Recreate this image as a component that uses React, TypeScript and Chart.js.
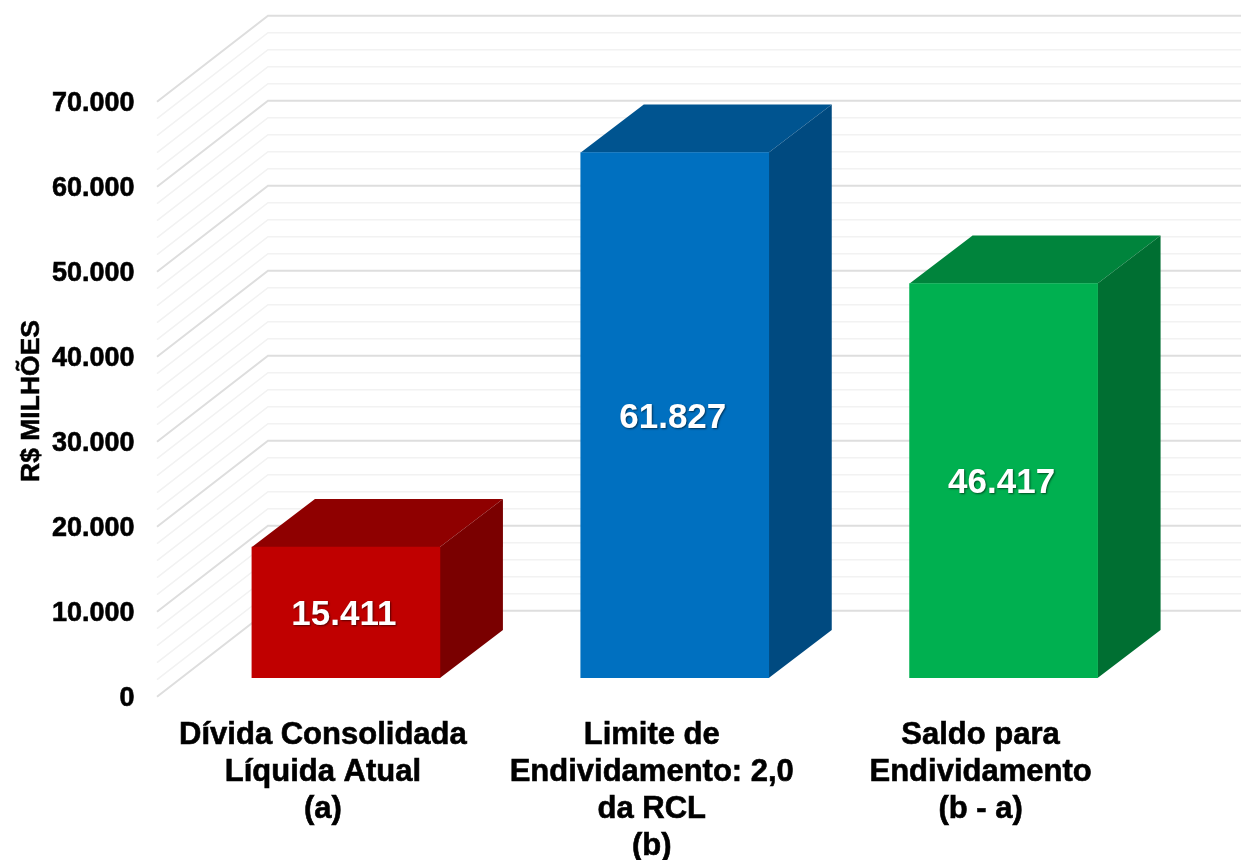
import React, { useEffect, useRef } from "react";
import { Chart, registerables } from "chart.js";

Chart.register(...registerables);

const categories = [
  ["Dívida Consolidada", "Líquida Atual", "(a)"],
  ["Limite de", "Endividamento: 2,0", "da RCL", "(b)"],
  ["Saldo para", "Endividamento", "(b - a)"],
];
const values = [15411, 61827, 46417];
const frontColors = ["#C00000", "#0070C0", "#00B050"];
const topColors = ["#8F0000", "#005490", "#00843C"];
const sideColors = ["#7A0000", "#004A80", "#006F32"];
const yAxisTitle = "R$ MILHÕES";
const FONT = '"Liberation Sans", Arial, sans-serif';

const fmt = (v: number) => new Intl.NumberFormat("de-DE").format(v);

const plugin3d = {
  id: "bars3d",
  beforeDatasetsDraw(chart: any) {
    const { ctx, scales } = chart;
    const y = scales.y;
    const W = chart.width;
    ctx.save();
    y.ticks.forEach((t: any) => {
      const major = t.value % 10000 === 0;
      const py = y.getPixelForValue(t.value) + 18.7;
      ctx.beginPath();
      ctx.moveTo(157, py);
      ctx.lineTo(268, py - 86);
      ctx.lineTo(W, py - 86);
      ctx.lineWidth = major ? 2 : 1.6;
      ctx.strokeStyle = major ? "#DEDEDE" : "#F2F2F2";
      ctx.stroke();
    });
    const meta = chart.getDatasetMeta(0);
    const dx = 63;
    const dy = -48;
    meta.data.forEach((bar: any, i: number) => {
      const half = bar.width / 2;
      const l = bar.x - half;
      const r = bar.x + half;
      const top = bar.y;
      const base = bar.base;
      ctx.fillStyle = topColors[i];
      ctx.beginPath();
      ctx.moveTo(l, top);
      ctx.lineTo(l + dx, top + dy);
      ctx.lineTo(r + dx, top + dy);
      ctx.lineTo(r, top);
      ctx.closePath();
      ctx.fill();
      ctx.fillStyle = sideColors[i];
      ctx.beginPath();
      ctx.moveTo(r, top);
      ctx.lineTo(r + dx, top + dy);
      ctx.lineTo(r + dx, base + dy);
      ctx.lineTo(r, base);
      ctx.closePath();
      ctx.fill();
    });
    ctx.restore();
  },
  afterDatasetsDraw(chart: any) {
    const { ctx } = chart;
    const meta = chart.getDatasetMeta(0);
    ctx.save();
    ctx.font = `bold 35px ${FONT}`;
    ctx.textAlign = "center";
    ctx.textBaseline = "middle";
    ctx.fillStyle = "#FFFFFF";
    ctx.shadowColor = "rgba(0,0,0,0.55)";
    ctx.shadowBlur = 2;
    ctx.shadowOffsetX = 1;
    ctx.shadowOffsetY = 1;
    meta.data.forEach((bar: any, i: number) => {
      ctx.fillText(fmt(values[i]), bar.x - 2, (bar.y + bar.base) / 2 + 3);
    });
    ctx.restore();
    ctx.save();
    ctx.translate(32, 401);
    ctx.rotate(-Math.PI / 2);
    ctx.font = `bold 26.5px ${FONT}`;
    ctx.textAlign = "center";
    ctx.textBaseline = "middle";
    ctx.fillStyle = "#000000";
    ctx.strokeStyle = "#000000";
    ctx.lineWidth = 0.5;
    ctx.fillText(yAxisTitle, 0, 0);
    ctx.strokeText(yAxisTitle, 0, 0);
    ctx.restore();
  },
};

export default function App() {
  const ref = useRef<HTMLCanvasElement>(null);
  useEffect(() => {
    const chart = new Chart(ref.current as HTMLCanvasElement, {
      type: "bar",
      data: {
        labels: categories,
        datasets: [
          {
            data: values,
            backgroundColor: frontColors,
            borderWidth: 0,
            barThickness: 188,
          },
        ],
      },
      options: {
        responsive: false,
        animation: false,
        layout: { padding: { top: 83, right: 73, left: 0, bottom: 0 } },
        plugins: { legend: { display: false }, tooltip: { enabled: false } },
        scales: {
          x: {
            grid: { display: false },
            border: { display: false },
            afterFit: (s: any) => {
              s.height = 182;
            },
            ticks: {
              autoSkip: false,
              maxRotation: 0,
              minRotation: 0,
              labelOffset: -23,
              padding: 31,
              color: "#000000",
              textStrokeColor: "#000000",
              textStrokeWidth: 0.6,
              font: { family: FONT, size: 31, weight: "bold", lineHeight: 1.194 },
            },
          },
          y: {
            min: 0,
            max: 70000,
            grid: { display: false },
            border: { display: false },
            afterFit: (s: any) => {
              s.width = 181.5;
            },
            ticks: {
              stepSize: 2000,
              autoSkip: false,
              labelOffset: 21,
              padding: 39,
              color: "#000000",
              textStrokeColor: "#000000",
              textStrokeWidth: 0.6,
              font: { family: FONT, size: 27, weight: "bold" },
              callback: (v: any) => (v % 10000 === 0 ? fmt(v) : ""),
            },
          },
        },
      },
      plugins: [plugin3d],
    } as any);
    return () => chart.destroy();
  }, []);
  return (
    <div style={{ position: "absolute", left: 0, top: 0, width: 1241, height: 860, background: "#fff" }}>
      <canvas ref={ref} width={1241} height={860} style={{ display: "block" }} />
    </div>
  );
}
